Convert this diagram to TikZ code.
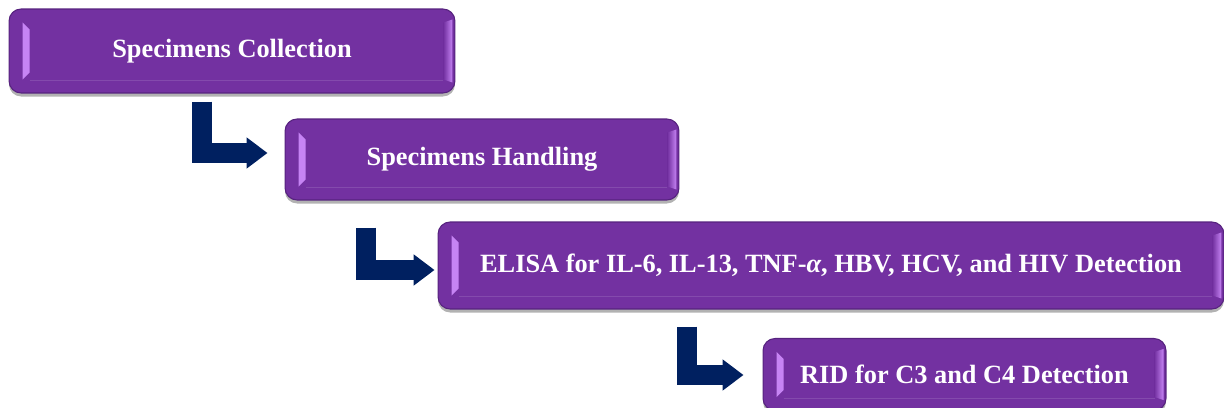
\documentclass[tikz,border=0pt]{standalone}
\usepackage{fontspec}
\setmainfont{Liberation Serif}
\usetikzlibrary{arrows.meta,calc,shadows}

\definecolor{stepfill}{HTML}{7331A1}
\definecolor{stepedge}{HTML}{56227E}
\definecolor{stepglow}{HTML}{C684F4}
\definecolor{navy}{HTML}{002060}

\tikzset{
  stage/.style={rounded corners=0.24cm, fill=stepfill, draw=stepedge, line width=0.6pt,
    inner sep=0pt, text=white, font=\fontsize{15}{18}\selectfont\bfseries,
    drop shadow={shadow xshift=0pt, shadow yshift=-2pt, opacity=.3, fill=black}},
  flow/.style={draw=navy, line width=0.4cm, -{Triangle[width=0.6cm,length=0.42cm]}},
}

\begin{document}
\begin{tikzpicture}[x=0.02cm, y=-0.02cm]
\useasboundingbox (0,0) rectangle (1224,408);
\clip (0,0) rectangle (1224,408);

% the four stages
\node[stage, minimum width=8.92cm, minimum height=1.68cm] (c1) at (232,51) {Specimens Collection};
\node[stage, minimum width=7.88cm, minimum height=1.62cm] (c2) at (482,159.5) {Specimens Handling};
\node[stage, minimum width=15.72cm, minimum height=1.74cm] (c3) at (831,265.5)
  {ELISA for IL-6, IL-13, TNF-\textit{α}, HBV, HCV, and HIV Detection};
\node[stage, minimum width=8.06cm, minimum height=1.44cm] (c4) at (964.5,374.5) {RID for C3 and C4 Detection};

% bevel faces on the left and right ends
\foreach \n in {c1,c2,c3,c4}{
  \fill[stepglow] ([shift={(14,14)}]\n.north west) -- ([shift={(21,21)}]\n.north west)
    -- ([shift={(21,-21)}]\n.south west) -- ([shift={(14,-14)}]\n.south west) -- cycle;
  \shade[left color=stepfill, right color=stepglow] ([shift={(-12,14)}]\n.north east)
    -- ([shift={(-3,11)}]\n.north east) -- ([shift={(-3,-11)}]\n.south east)
    -- ([shift={(-12,-14)}]\n.south east) -- cycle;
  \draw[stepfill!75!white, opacity=.5, line width=0.5pt] ([shift={(21,-13)}]\n.south west)
    -- ([shift={(-12,-13)}]\n.south east);
}

% elbow arrows between the stages
\foreach \a/\b/\x/\gap/\dy/\sh in {c1/c2/201.5/8/-6.5/0.34cm, c2/c3/366/27/4.5/0.06cm, c3/c4/687/17/0.5/0.38cm}{
  \coordinate (bend) at (\x,0);
  \draw[flow, shorten >=\sh] ($(\a.south -| bend)+(0,\gap)$) |- ($(\b.west)+(0,\dy)$);
}
\end{tikzpicture}
\end{document}
